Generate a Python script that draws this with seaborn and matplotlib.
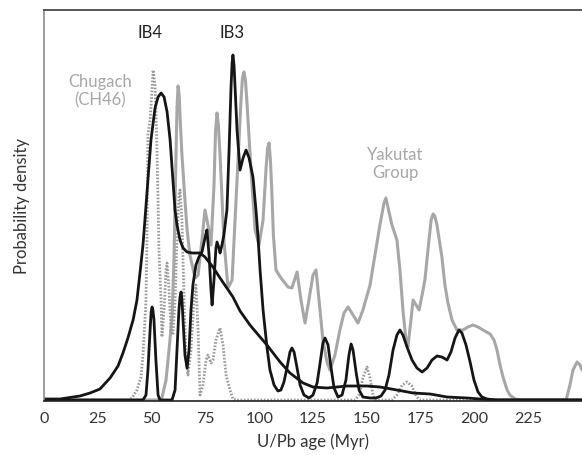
import matplotlib
matplotlib.use("Agg")
import matplotlib.pyplot as plt
import seaborn as sns
import pandas as pd
from matplotlib.ticker import MultipleLocator

# ---------------- data (U/Pb age in Myr, probability density in arbitrary units) -------------
yakutat_age = [0, 53.0, 54.8, 56.7, 58.1, 59.5, 60.4, 61.3, 61.8, 62.3, 62.8, 63.4, 64.1, 65.5,
               66.5, 67.8, 70.2, 71.6, 73.4, 74.8, 76.2, 77.6, 79.0, 79.7, 80.4, 81.0, 81.8,
               83.6, 85.5, 87.4, 89.7, 91.5, 92.2, 92.9, 93.6, 94.3, 96.2, 98.1, 99.9, 101.8,
               103.2, 103.9, 104.6, 105.2, 105.8, 106.6, 107.8, 110.1, 113.4,
               115.2, 117.6, 119.4, 121.3, 123.1, 125.0, 126.4, 127.8, 129.6, 131.5, 132.9, 135.2,
               137.5, 139.4, 141.3, 143.6, 145.9, 148.2, 151.5, 153.8, 156.1, 158.0, 158.9, 160.3,
               161.7, 164.0, 165.4, 166.8, 168.2, 169.1, 170.5, 171.5, 172.9, 174.3, 175.7, 177.0,
               178.9, 179.9, 180.8, 181.6, 182.6, 184.9, 186.3, 187.7, 189.6, 191.9, 194.7, 197.0,
               199.3, 201.7, 204.0, 207.3, 209.1, 210.5, 211.9, 213.3, 215.2, 216.5, 218.9, 221.2,
               242.6, 244.4, 245.8, 247.7, 249.1, 250.0]
yakutat_dens = [0, 0, 2, 20, 50, 83, 140, 240, 292, 314, 305, 275, 245, 200,
                170, 145, 122, 125, 160, 190, 175, 155, 215, 268, 287, 276, 245,
                160, 112, 120, 220, 298, 322, 328, 320, 298, 230, 170, 155, 180,
                232, 252, 257, 240, 212, 165, 130, 122, 113,
                112, 128, 100, 77, 100, 125, 130, 100, 60, 38, 30, 45,
                70, 87, 93, 85, 77, 90, 115, 145, 175, 197, 202, 188,
                175, 160, 130, 90, 60, 53, 80, 100, 95, 90, 105, 120,
                160, 180, 186, 184, 175, 143, 115, 97, 80, 70, 70, 73,
                75, 73, 70, 66, 60, 50, 35, 23, 10, 5, 1, 0,
                0, 15, 30, 38, 35, 30]

chugach_age = [0, 39.0, 40.9, 43.2, 45.1, 46.0, 46.9, 47.4, 47.9, 48.3, 49.3, 50.2, 50.7, 51.6,
               52.0, 52.5, 53.0, 53.4, 54.4, 54.8, 55.8, 56.7, 57.2, 58.1, 59.0, 59.9, 60.9, 61.8,
               62.7, 63.2, 64.1, 65.1, 66.0, 66.9, 68.3, 69.7, 70.6, 71.6, 72.5, 73.9, 75.3, 76.2,
               77.6, 78.5, 79.9, 81.8, 83.2, 84.6, 86.4, 87.8, 89.2, 144.5, 146.4, 148.2, 150.1,
               151.5, 152.9, 154.3, 161.7, 164.0, 166.4, 168.7, 171.0, 172.9, 174.7, 250.0]
chugach_dens = [0, 0, 2, 10, 23, 45, 80, 100, 170, 265, 280, 310, 330, 315,
                290, 250, 200, 150, 100, 63, 90, 130, 137, 110, 70, 65, 100, 160,
                205, 210, 180, 100, 40, 25, 50, 100, 115, 70, 5, 15, 40, 45,
                37, 40, 60, 72, 55, 25, 10, 1, 0, 0, 5, 22, 33,
                22, 5, 0, 0, 5, 15, 18, 14, 4, 0, 0]

ib4_age = [0, 7.4, 16.7, 21.4, 26.0, 30.7, 34.4, 36.7, 39.0, 41.4, 43.2, 44.6, 46.0, 46.9, 48.3,
           49.7, 51.6, 53.0, 54.4, 55.8, 57.2, 58.6, 59.9, 60.9, 61.8, 63.2, 64.6, 66.5, 68.8,
           72.5, 74.8, 78.5, 81.8, 87.8, 91.1, 95.7, 100.4, 103.6, 109.7, 114.3, 120.4, 125.0,
           131.5, 140.8, 150.1, 156.1, 164.0, 171.5, 179.4, 187.3, 196.6, 202.6, 210.5, 250.0]
ib4_dens = [1, 1, 4, 7, 11, 22, 34, 47, 62, 80, 100, 127, 155, 180, 220,
            260, 292, 303, 307, 303, 288, 260, 220, 190, 175, 160, 152, 148, 147,
            147, 143, 133, 122, 103, 89, 75, 63, 55, 38, 27, 17, 13,
            12, 14, 14, 13, 10, 7, 6, 3, 2, 1, 0, 0]

ib3_age = [0, 46.0, 47.4, 48.3, 49.3, 49.8, 50.2, 50.6, 51.1, 52.0, 53.0, 53.9, 59.5, 60.9, 61.8,
           62.7, 63.2, 63.7, 64.1, 64.6, 65.5, 66.5, 67.4, 68.3, 69.2, 70.6, 72.0, 73.4, 74.8,
           75.7, 76.7, 77.6, 78.1, 79.0, 79.9, 80.4, 81.3, 81.8, 82.7, 83.6, 85.0, 86.0, 86.9,
           87.4, 87.8, 88.3, 88.8, 89.7, 91.1, 92.5, 93.9, 95.3, 97.1, 98.5, 99.4, 100.4, 101.8,
           103.6, 105.0, 106.9, 108.7, 110.1, 111.5, 112.9, 114.3, 115.2, 116.2, 117.6, 119.0,
           120.8, 123.1, 125.0, 126.9, 128.3, 129.6, 130.6, 132.0, 133.4, 134.8, 136.6, 138.5,
           140.3, 141.7, 142.7, 143.6, 145.0, 146.4, 148.2, 151.5, 154.3, 156.6, 158.5, 160.3,
           162.2, 164.0, 165.4, 166.8, 168.7, 171.0, 173.3, 175.7, 178.0, 180.3, 182.6, 184.9,
           187.3, 189.1, 191.0, 192.8, 194.2, 196.1, 198.0, 199.8, 201.7, 203.5, 205.9, 209.6,
           250.0]
ib3_dens = [0, 0, 5, 30, 70, 88, 93, 90, 80, 40, 5, 0, 0, 10, 50,
            90, 103, 108, 100, 80, 45, 32, 50, 90, 115, 135, 143, 148, 162,
            170, 145, 110, 95, 120, 152, 158, 152, 147, 155, 165, 190, 250, 312,
            337, 345, 335, 312, 270, 230, 242, 250, 242, 223, 190, 165, 130, 90,
            53, 30, 15, 9, 10, 18, 32, 48, 52, 48, 32, 15,
            5, 2, 5, 17, 37, 57, 62, 55, 32, 12, 3, 5,
            20, 45, 56, 50, 28, 10, 3, 2, 2, 4, 10, 25,
            50, 65, 70, 65, 53, 40, 32, 28, 32, 40, 44, 43,
            40, 48, 62, 70, 67, 55, 38, 20, 8, 3, 1, 0,
            0]

xticks = [0, 25, 50, 75, 100, 125, 150, 175, 200, 225]

# ---------------- figure ---------------------------------------------------------------------
sns.set_style("white")
plt.rcParams["font.family"] = ["Lato", "DejaVu Sans"]

fig = plt.figure(figsize=(5.82, 4.55), dpi=100)
ax = fig.add_axes([44 / 582, 54 / 455, 538 / 582, 391 / 455])

df_y = pd.DataFrame({"age": yakutat_age, "dens": yakutat_dens})
df_c = pd.DataFrame({"age": chugach_age, "dens": chugach_dens})
df_4 = pd.DataFrame({"age": ib4_age, "dens": ib4_dens})
df_3 = pd.DataFrame({"age": ib3_age, "dens": ib3_dens})

sns.lineplot(data=df_y, x="age", y="dens", ax=ax, color="#a7a7a7", lw=2.2,
             sort=False, estimator=None, solid_joinstyle="round")
sns.lineplot(data=df_c, x="age", y="dens", ax=ax, color="#9a9a9a", lw=2.0,
             linestyle=(0, (0.6, 0.6)), sort=False, estimator=None)
sns.lineplot(data=df_4, x="age", y="dens", ax=ax, color="#151515", lw=2.0,
             sort=False, estimator=None, solid_joinstyle="round")
sns.lineplot(data=df_3, x="age", y="dens", ax=ax, color="#151515", lw=2.0,
             sort=False, estimator=None, solid_joinstyle="round")

ax.set_xlim(0, 250)
ax.set_ylim(-1, 390)
ax.set_yticks([])
ax.set_xticks(xticks)
ax.set_xticklabels([str(t) for t in xticks])
ax.xaxis.set_minor_locator(MultipleLocator(5))
ax.tick_params(axis="x", which="major", direction="out", length=4, width=1,
               color="#333333", labelsize=11.5, labelcolor="#333333", pad=4)
ax.tick_params(axis="x", which="minor", direction="in", length=2.5, width=0.8,
               color="#333333")

ax.spines["right"].set_visible(False)
ax.spines["top"].set_color("#3a3a3a")
ax.spines["top"].set_linewidth(1.2)
ax.spines["left"].set_color("#8c8c8c")
ax.spines["left"].set_linewidth(1.2)
ax.spines["bottom"].set_color("#222222")
ax.spines["bottom"].set_linewidth(1.2)

ax.set_xlabel("U/Pb age (Myr)", fontsize=12, color="#333333", labelpad=5)
ax.set_ylabel("Probability density", fontsize=12, color="#333333", labelpad=10)

ax.text(49.3, 367, "IB4", ha="center", va="center", fontsize=12, color="#222222")
ax.text(87.4, 367, "IB3", ha="center", va="center", fontsize=12, color="#222222")
ax.text(26.0, 309, "Chugach\n(CH46)", ha="center", va="center", fontsize=12,
        color="#a7a7a7", linespacing=1.15)
ax.text(163.1, 236, "Yakutat\nGroup", ha="center", va="center", fontsize=12,
        color="#a7a7a7", linespacing=1.15)

fig.savefig("out.png", dpi=100)
